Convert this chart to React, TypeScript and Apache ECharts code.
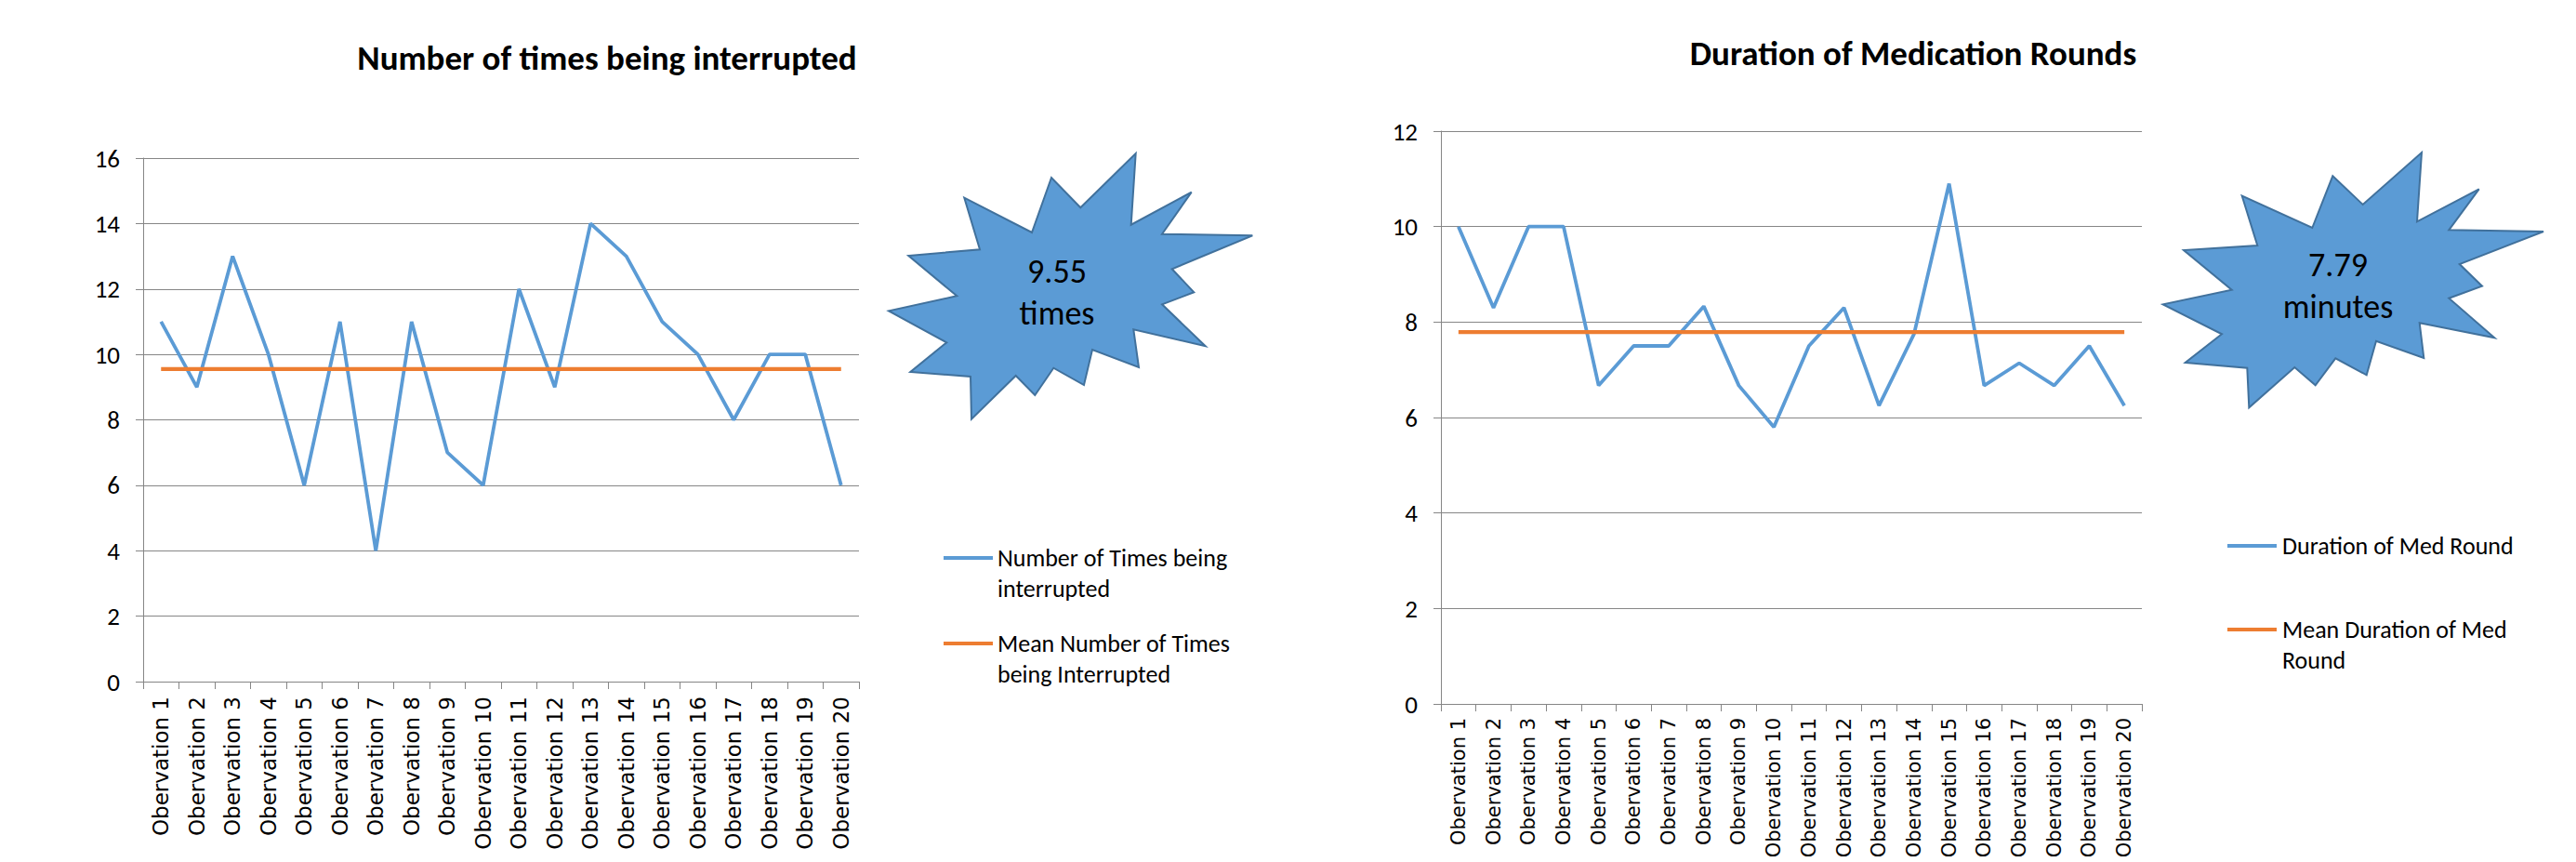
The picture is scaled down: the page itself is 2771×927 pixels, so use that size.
import React, { useEffect, useRef } from "react";
import * as echarts from "echarts";

const categories = [
  "Obervation 1", "Obervation 2", "Obervation 3", "Obervation 4", "Obervation 5",
  "Obervation 6", "Obervation 7", "Obervation 8", "Obervation 9", "Obervation 10",
  "Obervation 11", "Obervation 12", "Obervation 13", "Obervation 14", "Obervation 15",
  "Obervation 16", "Obervation 17", "Obervation 18", "Obervation 19", "Obervation 20",
];
const interruptions = [11, 9, 13, 10, 6, 11, 4, 11, 7, 6, 12, 9, 14, 13, 11, 10, 8, 10, 10, 6];
const meanInterruptions = [9.55, 9.55, 9.55, 9.55, 9.55, 9.55, 9.55, 9.55, 9.55, 9.55, 9.55, 9.55, 9.55, 9.55, 9.55, 9.55, 9.55, 9.55, 9.55, 9.55];
const durations = [10, 8.3, 10, 10, 6.67, 7.5, 7.5, 8.33, 6.67, 5.8, 7.5, 8.3, 6.25, 7.75, 10.9, 6.67, 7.14, 6.67, 7.5, 6.25];
const meanDurations = [7.79, 7.79, 7.79, 7.79, 7.79, 7.79, 7.79, 7.79, 7.79, 7.79, 7.79, 7.79, 7.79, 7.79, 7.79, 7.79, 7.79, 7.79, 7.79, 7.79];

const leftTitle = "Number of times being interrupted";
const rightTitle = "Duration of Medication Rounds";
const leftBurst = ["9.55", "times"];
const rightBurst = ["7.79", "minutes"];

const BLUE = "#5B9BD5";
const ORANGE = "#ED7D31";
const GRAY = "#868686";
const CAL = "Carlito, Lato, sans-serif";

const leftStar = [
  [1221.7, 165], [1216.7, 241.7], [1281.7, 206.7], [1250, 251.7], [1347.3, 253.3],
  [1260.7, 289.3], [1284.3, 314.3], [1250, 327.3], [1296.7, 372.3], [1219.3, 354.3],
  [1225, 395], [1175, 376], [1166, 414], [1133.3, 395.7], [1113.3, 425],
  [1092.7, 404], [1045, 450.7], [1044, 405], [979.3, 400], [1018.3, 368.3],
  [956, 334.3], [1029.3, 318.3], [977.3, 275], [1054, 268.3], [1037.3, 212.7],
  [1110, 250], [1131, 191], [1162.3, 223.3],
];
const rightStar = [
  [2605, 164], [2600, 238.3], [2666.7, 203.3], [2634.3, 247.3], [2736, 249],
  [2645.7, 284], [2670, 307.7], [2634.3, 320.7], [2683.3, 363.3], [2602.7, 347.3],
  [2607.3, 385], [2556, 366.7], [2545.7, 403.3], [2512.3, 385.3], [2490.7, 414.3],
  [2468.3, 395], [2419.3, 438.3], [2417.3, 395.7], [2350.7, 390], [2390, 359.3],
  [2326.7, 327.3], [2400.7, 311.7], [2349, 269], [2428.3, 264], [2411.7, 210.7],
  [2487.3, 245], [2509.3, 189.3], [2541.7, 220],
];

function xAxisCfg(gridIndex: number, margin: number, fontSize: number) {
  return {
    type: "category",
    gridIndex,
    data: categories,
    boundaryGap: true,
    axisLine: { show: true, lineStyle: { color: GRAY, width: 1 } },
    axisTick: { show: true, interval: 0, length: 8, lineStyle: { color: GRAY } },
    axisLabel: {
      interval: 0,
      rotate: 90,
      margin,
      color: "#000",
      fontFamily: "DejaVu Sans",
      fontSize,
    },
    splitLine: { show: false },
  };
}

function yAxisCfg(gridIndex: number, max: number) {
  return {
    type: "value",
    gridIndex,
    min: 0,
    max,
    interval: 2,
    axisLine: { show: true, lineStyle: { color: GRAY, width: 1 } },
    axisTick: { show: true, length: 8, lineStyle: { color: GRAY } },
    axisLabel: { color: "#000", fontFamily: CAL, fontSize: 27, margin: 25 },
    splitLine: { show: true, lineStyle: { color: GRAY, width: 1 } },
  };
}

function lineSeries(name: string, data: number[], color: string, width: number, idx: number) {
  return {
    name,
    type: "line",
    data,
    xAxisIndex: idx,
    yAxisIndex: idx,
    symbol: "none",
    lineStyle: { color, width },
    itemStyle: { color },
  };
}

function txt(text: string, x: number, y: number, size: number, opts: any = {}) {
  return {
    type: "text",
    x,
    y,
    style: {
      text,
      fill: "#000",
      font: `${opts.bold ? "bold " : ""}${size}px ${CAL}`,
      textAlign: opts.align || "left",
      textVerticalAlign: "middle",
    },
  };
}

function legendLine(x1: number, x2: number, y: number, color: string) {
  return {
    type: "line",
    shape: { x1, y1: y, x2, y2: y },
    style: { stroke: color, lineWidth: 4 },
  };
}

export default function App() {
  const ref = useRef<HTMLDivElement>(null);
  useEffect(() => {
    document.body.style.margin = "0";
    if (!ref.current) return;
    const chart = echarts.init(ref.current, undefined, { renderer: "svg" });
    chart.setOption({
      animation: false,
      backgroundColor: "#fff",
      grid: [
        { left: 154, top: 170, width: 770, height: 563, containLabel: false, outerBoundsMode: "none" },
        { left: 1550, top: 141, width: 754, height: 616, containLabel: false, outerBoundsMode: "none" },
      ],
      xAxis: [xAxisCfg(0, 16, 23), xAxisCfg(1, 15, 21)],
      yAxis: [yAxisCfg(0, 16), yAxisCfg(1, 12)],
      series: [
        lineSeries("Number of Times being interrupted", interruptions, BLUE, 3.8, 0),
        lineSeries("Mean Number of Times being Interrupted", meanInterruptions, ORANGE, 4.2, 0),
        lineSeries("Duration of Med Round", durations, BLUE, 3.8, 1),
        lineSeries("Mean Duration of Med Round", meanDurations, ORANGE, 4.2, 1),
      ],
      graphic: [
        txt(leftTitle, 653, 62, 37, { bold: true, align: "center" }),
        txt(rightTitle, 2058, 57, 37, { bold: true, align: "center" }),
        {
          type: "polygon",
          shape: { points: leftStar },
          style: { fill: BLUE, stroke: "#41719C", lineWidth: 2 },
        },
        txt(leftBurst[0], 1137, 292, 36, { align: "center" }),
        txt(leftBurst[1], 1137, 337, 36, { align: "center" }),
        {
          type: "polygon",
          shape: { points: rightStar },
          style: { fill: BLUE, stroke: "#41719C", lineWidth: 2 },
        },
        txt(rightBurst[0], 2515, 285, 36, { align: "center" }),
        txt(rightBurst[1], 2515, 330, 36, { align: "center" }),
        legendLine(1015, 1068, 600, BLUE),
        txt("Number of Times being", 1073, 600, 26),
        txt("interrupted", 1073, 633, 26),
        legendLine(1015, 1068, 692, ORANGE),
        txt("Mean Number of Times", 1073, 692, 26),
        txt("being Interrupted", 1073, 725, 26),
        legendLine(2396, 2449, 587, BLUE),
        txt("Duration of Med Round", 2455, 587, 26),
        legendLine(2396, 2449, 677, ORANGE),
        txt("Mean Duration of Med", 2455, 677, 26),
        txt("Round", 2455, 710, 26),
      ],
    });
    return () => chart.dispose();
  }, []);
  return <div ref={ref} style={{ width: 2771, height: 927 }} />;
}
